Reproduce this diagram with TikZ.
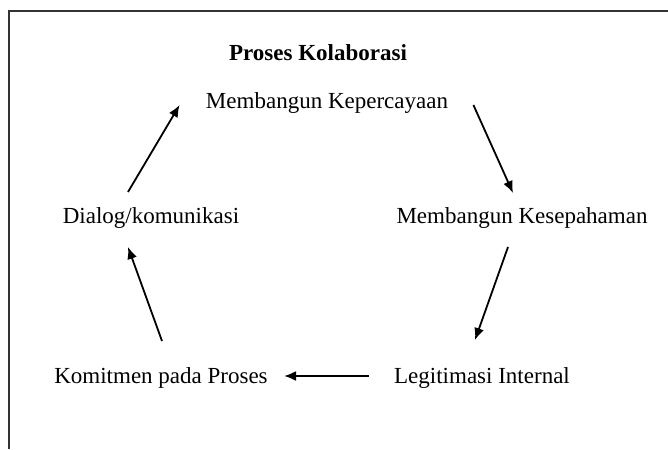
\documentclass[tikz,border=0pt]{standalone}
\usepackage{fontspec}
\setmainfont{Liberation Serif}
\usetikzlibrary{positioning,calc,arrows.meta}
\tikzset{proc node/.style={inner sep=0pt,font=\fontsize{11.5}{14}\selectfont},
title node/.style={proc node,font=\fontsize{11.5}{14}\selectfont\bfseries},
arrow line/.style={-{Latex[length=6pt,width=5pt]},line width=0.9pt},
frame line/.style={line width=0.8pt,black!80},
}

\begin{document}
\begin{tikzpicture}[x=0.5pt,y=-0.5pt]
				\useasboundingbox (0,0) rectangle (668,449);
				\draw[frame line] (9,449) -- (9,11) -- (668,11);
				
				\node[title node] (T) at (318,53) {Proses Kolaborasi};
				\node[proc node] (K1) at (327,103) {Membangun Kepercayaan};
				\node[proc node] (K2) at (522,218) {Membangun Kesepahaman};
				\node[proc node] (L) at (482,378) {Legitimasi Internal};
				\node[proc node] (K3) at (161,378) {Komitmen pada Proses};
				\node[proc node] (D) at (151,218) {Dialog/komunikasi};
				
				\path[arrow line]
				($(D)+(-23,-26)$) edge ($(K1.west)+(-26,2)$)
				($(K1.east)+(25,2)$) edge ($(K2)+(-9,-25)$)
				($(K2)+(-14,29)$) edge ($(L)+(-7,-38)$)
				($(L.west)+(-25,-2)$) edge ($(K3.east)+(16,-2)$)
				($(K3)+(1,-37)$) edge ($(D)+(-23,29)$);
				
			\end{tikzpicture}
\end{document}
